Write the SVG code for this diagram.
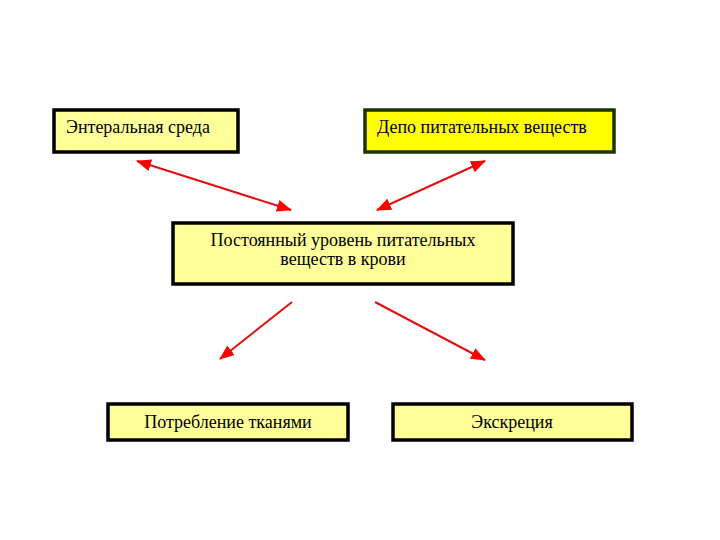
<svg xmlns="http://www.w3.org/2000/svg" width="720" height="540" viewBox="0 0 720 540">
<style>
.box{fill:#FFFF99;stroke:#000;stroke-width:3.5}
.t{font-family:"Liberation Serif","Times New Roman",serif;font-size:18px;fill:#000}
.c{stroke:#E01010;stroke-width:2;fill:none}
</style>
<defs>
<marker id="ah" viewBox="0 0 15 12" refX="14" refY="6" markerWidth="15" markerHeight="12" markerUnits="userSpaceOnUse" orient="auto-start-reverse">
<path d="M0,0 L15,6 L0,12 z" fill="#FF0000"/>
</marker>
</defs>
<rect width="720" height="540" fill="#fff"/>
<g id="n1"><rect class="box" x="54" y="110" width="184" height="42"/><text class="t" x="66" y="133">Энтеральная среда</text></g>
<g id="n2"><rect x="365" y="110" width="249" height="42" fill="#FFFF00" stroke="#1A3300" stroke-width="3.5"/><text class="t" x="377" y="133">Депо питательных веществ</text></g>
<g id="n3"><rect class="box" x="173" y="223" width="340" height="61"/><text class="t" x="343" y="246" text-anchor="middle">Постоянный уровень питательных</text><text class="t" x="343" y="265" text-anchor="middle">веществ в крови</text></g>
<g id="n4"><rect class="box" x="108" y="404" width="240" height="36"/><text class="t" x="228" y="428" text-anchor="middle">Потребление тканями</text></g>
<g id="n5"><rect class="box" x="393" y="404" width="239" height="36"/><text class="t" x="512" y="428" text-anchor="middle">Экскреция</text></g>
<g id="connectors">
<line class="c" x1="137" y1="161" x2="291" y2="210" marker-start="url(#ah)" marker-end="url(#ah)"/>
<line class="c" x1="377" y1="210" x2="485" y2="161" marker-start="url(#ah)" marker-end="url(#ah)"/>
<line class="c" x1="292" y1="302" x2="220" y2="359" marker-end="url(#ah)"/>
<line class="c" x1="375" y1="302" x2="485" y2="360" marker-end="url(#ah)"/>
</g>
</svg>
